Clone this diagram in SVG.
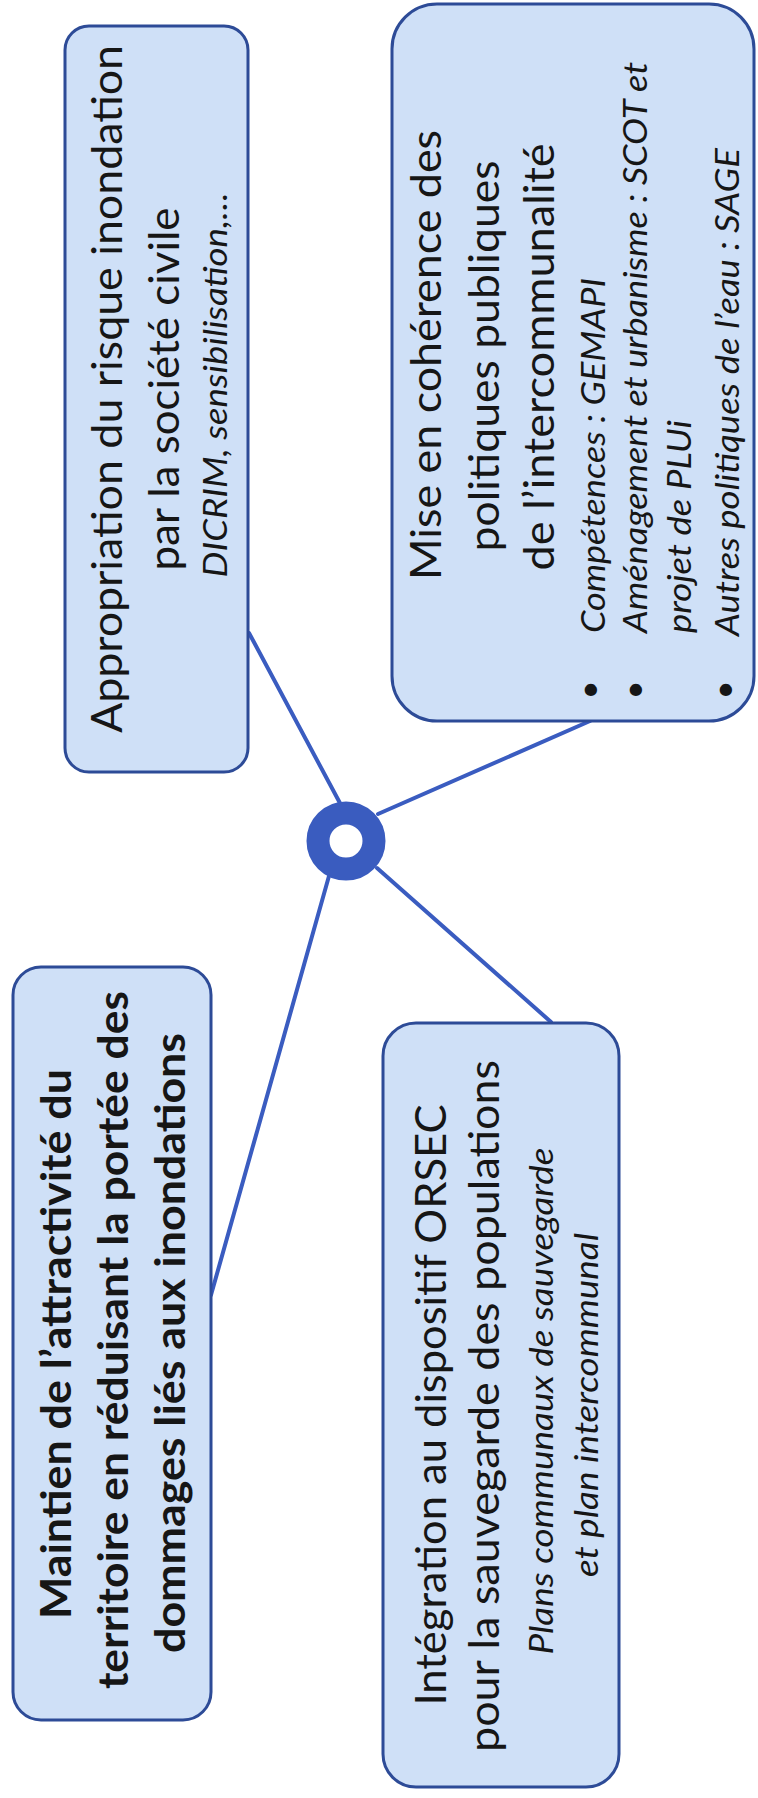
<svg xmlns="http://www.w3.org/2000/svg" width="758" height="1798" viewBox="0 0 758 1798">
<style>
.box{fill:#cfe0f7;stroke:#2d4b97;stroke-width:3}
.t{font-family:Lato,"Open Sans","Liberation Sans",sans-serif;fill:#161616}
.r{font-size:42px}
.i{font-size:33px;font-style:italic}
.b{font-size:42px;font-weight:bold}
.conn{stroke:#3a5cc0;stroke-width:4;fill:none;stroke-linecap:round}
.hub{fill:#ffffff;stroke:#3a5cbf;stroke-width:23}
</style>
<rect x="0" y="0" width="758" height="1798" fill="#ffffff"/>
<g id="connectors">
  <line class="conn" x1="249" y1="633" x2="341" y2="805"/>
  <line class="conn" x1="590" y1="721" x2="378" y2="814"/>
  <line class="conn" x1="211" y1="1295" x2="329" y2="876"/>
  <line class="conn" x1="551" y1="1022" x2="377" y2="868"/>
</g>
<g id="hub">
  <circle class="hub" cx="346" cy="841" r="28"/>
</g>
<g id="node-appropriation">
  <rect class="box" x="65" y="26" width="183" height="746" rx="24"/>
  <text class="t r" transform="translate(122,389) rotate(-90)" text-anchor="middle" textLength="688" lengthAdjust="spacingAndGlyphs">Appropriation du risque inondation</text>
  <text class="t r" transform="translate(179,389) rotate(-90)" text-anchor="middle" textLength="363" lengthAdjust="spacingAndGlyphs">par la société civile</text>
  <text class="t i" transform="translate(227,385) rotate(-90)" text-anchor="middle" textLength="385" lengthAdjust="spacingAndGlyphs">DICRIM, sensibilisation,…</text>
</g>
<g id="node-coherence">
  <rect class="box" x="392" y="4" width="362" height="717" rx="45"/>
  <text class="t r" transform="translate(441,355) rotate(-90)" text-anchor="middle" textLength="450" lengthAdjust="spacingAndGlyphs">Mise en cohérence des</text>
  <text class="t r" transform="translate(499,356) rotate(-90)" text-anchor="middle" textLength="391" lengthAdjust="spacingAndGlyphs">politiques publiques</text>
  <text class="t r" transform="translate(554,357) rotate(-90)" text-anchor="middle" textLength="427" lengthAdjust="spacingAndGlyphs">de l’intercommunalité</text>
  <text class="t i" transform="translate(601,690) rotate(-90)" text-anchor="middle">•</text>
  <text class="t i" transform="translate(646,690) rotate(-90)" text-anchor="middle">•</text>
  <text class="t i" transform="translate(736,690) rotate(-90)" text-anchor="middle">•</text>
  <text class="t i" transform="translate(605,633) rotate(-90)" textLength="355" lengthAdjust="spacingAndGlyphs">Compétences : GEMAPI</text>
  <text class="t i" transform="translate(647,633) rotate(-90)" textLength="571" lengthAdjust="spacingAndGlyphs">Aménagement et urbanisme : SCOT et</text>
  <text class="t i" transform="translate(691,633) rotate(-90)" textLength="213" lengthAdjust="spacingAndGlyphs">projet de PLUi</text>
  <text class="t i" transform="translate(739,636) rotate(-90)" textLength="488" lengthAdjust="spacingAndGlyphs">Autres politiques de l’eau : SAGE</text>
</g>
<g id="node-maintien">
  <rect class="box" x="13" y="967" width="198" height="753" rx="28"/>
  <text class="t b" transform="translate(71,1344) rotate(-90)" text-anchor="middle" textLength="550" lengthAdjust="spacingAndGlyphs">Maintien de l’attractivité du</text>
  <text class="t b" transform="translate(128,1340) rotate(-90)" text-anchor="middle" textLength="698" lengthAdjust="spacingAndGlyphs">territoire en réduisant la portée des</text>
  <text class="t b" transform="translate(185,1343) rotate(-90)" text-anchor="middle" textLength="620" lengthAdjust="spacingAndGlyphs">dommages liés aux inondations</text>
</g>
<g id="node-integration">
  <rect class="box" x="383" y="1023" width="236" height="764" rx="33"/>
  <text class="t r" transform="translate(446,1405) rotate(-90)" text-anchor="middle" textLength="601" lengthAdjust="spacingAndGlyphs">Intégration au dispositif ORSEC</text>
  <text class="t r" transform="translate(499,1406) rotate(-90)" text-anchor="middle" textLength="692" lengthAdjust="spacingAndGlyphs">pour la sauvegarde des populations</text>
  <text class="t i" transform="translate(553,1401) rotate(-90)" text-anchor="middle" textLength="507" lengthAdjust="spacingAndGlyphs">Plans communaux de sauvegarde</text>
  <text class="t i" transform="translate(598,1405) rotate(-90)" text-anchor="middle" textLength="344" lengthAdjust="spacingAndGlyphs">et plan intercommunal</text>
</g>
</svg>
